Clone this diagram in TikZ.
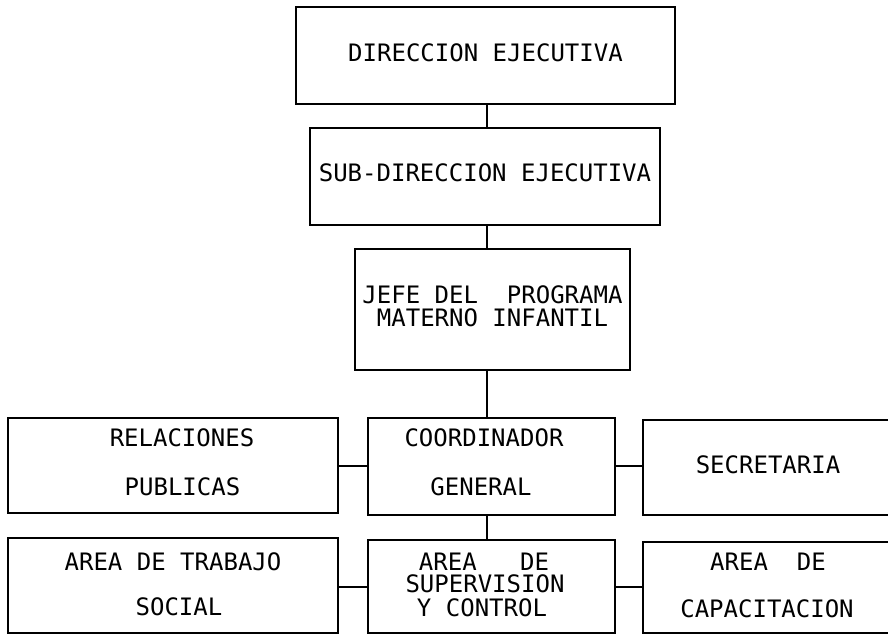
\documentclass[tikz,border=0pt]{standalone}
\usepackage{fontspec}
\newfontfamily\dotfont{DejaVu Sans Mono}
\begin{document}
\begin{tikzpicture}[x=1pt,y=-1pt,
  box/.style={draw=black,line width=1.8pt,rectangle,inner sep=0pt,fill=none},
  lbl/.style={inner sep=0pt,anchor=center,text height=17.5pt,text depth=0pt,
    font=\dotfont\fontsize{24pt}{28pt}\selectfont},
  conn/.style={draw=black,line width=1.8pt}]
\useasboundingbox (0,0) rectangle (888,635);
\clip (0,0) rectangle (888,635);
% boxes
\node[box,minimum width=379pt,minimum height=97pt] (b1) at (485.5,55.5) {};
\node[box,minimum width=350pt,minimum height=97pt] (b2) at (485,176.5) {};
\node[box,minimum width=275pt,minimum height=121pt] (b3) at (492.5,309.5) {};
\node[box,minimum width=330pt,minimum height=95pt] (rel) at (173,465.5) {};
\node[box,minimum width=247pt,minimum height=97pt] (coord) at (491.5,466.5) {};
\node[box,minimum width=249pt,minimum height=95pt] (sec) at (767.5,467.5) {};
\node[box,minimum width=330pt,minimum height=95pt] (trab) at (173,585.5) {};
\node[box,minimum width=247pt,minimum height=93pt] (sup) at (491.5,586.5) {};
\node[box,minimum width=249pt,minimum height=91pt] (cap) at (767.5,587.5) {};
% texts
\node[lbl] (t1) at (485.5,53) {DIRECCION EJECUTIVA};
\node[lbl] (t2) at (485,173) {SUB-DIRECCION EJECUTIVA};
\node[lbl] (t3a) at (492.5,295) {JEFE DEL~~PROGRAMA};
\node[lbl] (t3b) at (492.5,318) {MATERNO INFANTIL};
\node[lbl] (r1) at (182,438) {RELACIONES};
\node[lbl] (r2) at (182.5,487) {PUBLICAS};
\node[lbl] (c1) at (484,438) {COORDINADOR};
\node[lbl] (c2) at (481,487) {GENERAL};
\node[lbl] (s1) at (768,465) {SECRETARIA};
\node[lbl] (w1) at (173,562) {AREA DE TRABAJO};
\node[lbl] (w2) at (179,607) {SOCIAL};
\node[lbl] (v1) at (484,562) {AREA~~~DE};
\node[lbl] (v2) at (485,584) {SUPERVISION};
\node[lbl] (v3) at (482,608) {Y CONTROL};
\node[lbl] (k1) at (768,562) {AREA~~DE};
\node[lbl] (k2) at (767,609) {CAPACITACION};
% connectors
\coordinate (spine) at (487,0);
\coordinate (row1) at (0,466);
\coordinate (row2) at (0,587);
\draw[conn] (b1.south -| spine) -- (b2.north -| spine);
\draw[conn] (b2.south -| spine) -- (b3.north -| spine);
\draw[conn] (b3.south -| spine) -- (coord.north -| spine);
\draw[conn] (coord.south -| spine) -- (sup.north -| spine);
\draw[conn] (rel.east |- row1) -- (coord.west |- row1);
\draw[conn] (coord.east |- row1) -- (sec.west |- row1);
\draw[conn] (trab.east |- row2) -- (sup.west |- row2);
\draw[conn] (sup.east |- row2) -- (cap.west |- row2);
\end{tikzpicture}
\end{document}
